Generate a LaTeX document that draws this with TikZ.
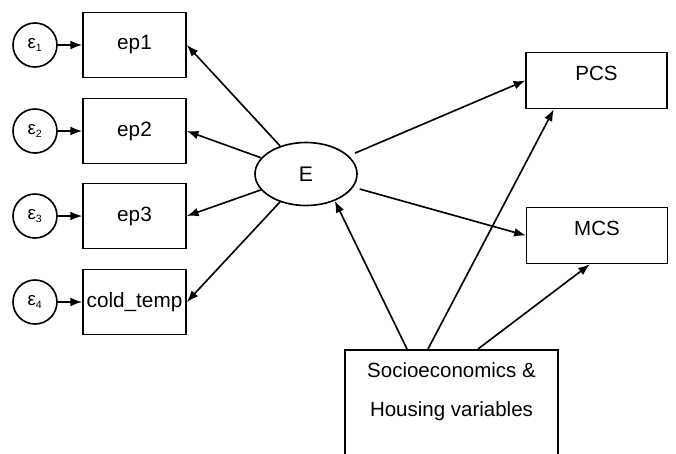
\documentclass[tikz,border=0pt]{standalone}
\usepackage{fontspec}
\setmainfont{Liberation Sans}
\usepackage{tikz}
\usetikzlibrary{shapes.geometric, arrows.meta, positioning, calc}
\tikzset{
  obsbox/.style={rectangle, draw, line width=1.4pt, inner sep=0pt,
    minimum width=30.9mm, minimum height=19.5mm,
    font=\fontsize{17.7}{20}\selectfont},
  outbox/.style={rectangle, draw, line width=1.4pt, inner sep=0pt,
    minimum width=42.2mm, minimum height=16.8mm, text depth=12pt,
    font=\fontsize{17.5}{20}\selectfont},
  socbox/.style={rectangle, draw, line width=1.4pt,
    minimum width=63.9mm, minimum height=60mm},
  errnode/.style={circle, draw, line width=1.4pt, inner sep=0pt,
    minimum size=13.2mm, font=\fontsize{16}{18}\selectfont},
  latent/.style={ellipse, draw, line width=1.4pt, inner sep=0pt,
    minimum width=30.6mm, minimum height=18.9mm,
    font=\fontsize{18}{20}\selectfont},
  arrow/.style={-{Latex[length=10pt,width=7.5pt]}, line width=1.4pt}
}

\begin{document}
\begin{tikzpicture}[x=0.3mm, y=-0.3mm]
  \useasboundingbox (0,0) rectangle (676,453);
  \clip (0,0) rectangle (676,453);

  % Latent factor
  \node[latent] (E) at (306,174) {E};

  % Indicators with error terms
  \foreach \i/\y/\lab in {1/45/ep1, 2/131/ep2, 3/216/ep3, 4/302/cold\_temp} {
    \node[obsbox] (ep\i) at (134.5,\y) {\lab};
    \node[errnode] (eps\i) at (35,\y) {ε\textsubscript{\fontsize{9}{10}\selectfont\i}};
    \draw[arrow] (eps\i) -- (ep\i);
    \draw[arrow] (E) -- (ep\i.east);
  }

  % Outcomes
  \node[outbox] (PCS) at (596.5,80.5) {PCS};
  \node[outbox] (MCS) at (597,235.5) {MCS};
  \draw[arrow, shorten <=2mm] (E) -- (PCS.west);
  \draw[arrow, shorten <=2mm] (E) -- (MCS.west);

  % Covariates (box runs off the bottom)
  \node[socbox, anchor=north] (socio) at (451.5,349) {};
  \node[font=\fontsize{17.5}{33}\selectfont, align=center] (soctext) at (451.5,392)
    {Socioeconomics \&\\Housing variables};
  \coordinate (s1) at (407,349);
  \coordinate (s2) at (428,349);
  \coordinate (s3) at (478,349);
  \draw[arrow] (s1) -- (E.-43);
  \draw[arrow] (s2) -- ($(PCS.south west)!0.2!(PCS.south east)$);
  \draw[arrow] (s3) -- ($(MCS.south west)!0.45!(MCS.south east)$);
\end{tikzpicture}
\end{document}
